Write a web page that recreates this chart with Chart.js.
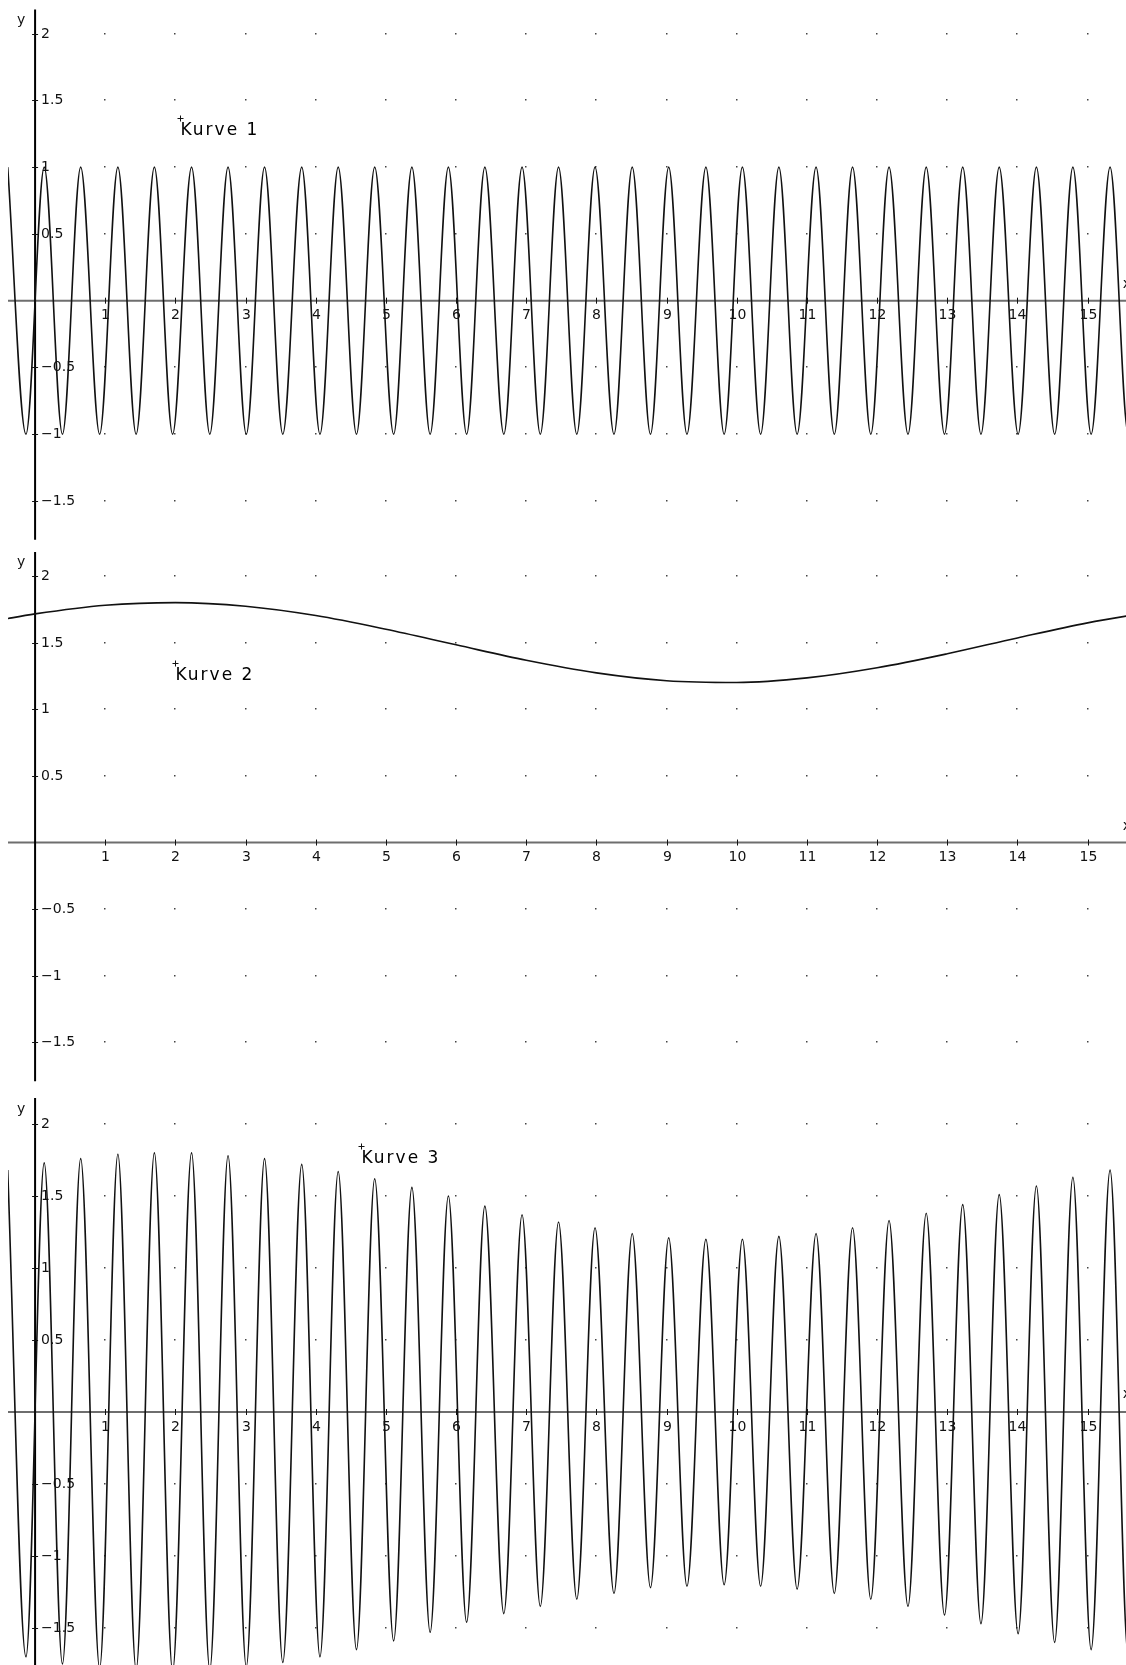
<!DOCTYPE html>
<html>
<head>
<meta charset="utf-8">
<script src="https://cdn.jsdelivr.net/npm/chart.js@4.4.0/dist/chart.umd.min.js"></script>
<style>
  body { margin: 0; background: #fff; }
  canvas { display: block; }
</style>
</head>
<body>
<canvas id="panel1" width="1126" height="541"></canvas>
<canvas id="panel2" width="1126" height="542"></canvas>
<canvas id="panel3" width="1126" height="582"></canvas>
<script>
// x positions of the peaks / troughs (Kurve 1 and Kurve 3 share them)
const extremaX = [-0.39, -0.13, 0.13, 0.39, 0.65, 0.92, 1.18, 1.44, 1.70, 1.96,
  2.23, 2.49, 2.75, 3.01, 3.27, 3.53, 3.80, 4.06, 4.32, 4.58,
  4.84, 5.11, 5.37, 5.63, 5.89, 6.15, 6.41, 6.68, 6.94, 7.20,
  7.46, 7.72, 7.98, 8.25, 8.51, 8.77, 9.03, 9.29, 9.56, 9.82,
  10.08, 10.34, 10.60, 10.86, 11.13, 11.39, 11.65, 11.91, 12.17, 12.44,
  12.70, 12.96, 13.22, 13.48, 13.74, 14.01, 14.27, 14.53, 14.79, 15.05,
  15.32, 15.58, 15.84];

const kurve1Y = [1, -1, 1, -1, 1, -1, 1, -1, 1, -1,
  1, -1, 1, -1, 1, -1, 1, -1, 1, -1,
  1, -1, 1, -1, 1, -1, 1, -1, 1, -1,
  1, -1, 1, -1, 1, -1, 1, -1, 1, -1,
  1, -1, 1, -1, 1, -1, 1, -1, 1, -1,
  1, -1, 1, -1, 1, -1, 1, -1, 1, -1,
  1, -1, 1];

const kurve3Y = [1.68, -1.70, 1.73, -1.75, 1.76, -1.78, 1.79, -1.79, 1.80, -1.80,
  1.80, -1.79, 1.78, -1.77, 1.76, -1.74, 1.72, -1.70, 1.67, -1.65,
  1.62, -1.59, 1.56, -1.53, 1.50, -1.46, 1.43, -1.40, 1.37, -1.35,
  1.32, -1.30, 1.28, -1.26, 1.24, -1.22, 1.21, -1.21, 1.20, -1.20,
  1.20, -1.21, 1.22, -1.23, 1.24, -1.26, 1.28, -1.30, 1.33, -1.35,
  1.38, -1.41, 1.44, -1.47, 1.51, -1.54, 1.57, -1.60, 1.63, -1.65,
  1.68, -1.70, 1.73];

const kurve2X = [-0.5, 0, 1, 2, 3, 4, 5, 6, 7, 8, 9, 10, 11, 12, 13, 14, 15, 16];
const kurve2Y = [1.67, 1.715, 1.78, 1.80, 1.773, 1.703, 1.60, 1.483, 1.367, 1.273,
  1.214, 1.201, 1.235, 1.311, 1.416, 1.535, 1.648, 1.738];

const xTicks = [1, 2, 3, 4, 5, 6, 7, 8, 9, 10, 11, 12, 13, 14, 15];
const yTicks = [2, 1.5, 1, 0.5, -0.5, -1, -1.5];

function toPoints(xs, ys) {
    let pts = [];
    for (var i = 0; i < xs.length; i++) {
        pts.push({x: xs[i], y: ys[i]});
    }
    return pts;
}

function fmt(v) {
    return v < 0 ? "\u2212" + String(-v) : String(v);
}

const axisCross = {
    id: "axisCross",
    beforeDatasetsDraw(chart, args, opts) {
        const ctx = chart.ctx;
        const sx = chart.scales.x;
        const sy = chart.scales.y;
        const area = chart.chartArea;
        const x0 = sx.getPixelForValue(0);
        const y0 = sy.getPixelForValue(0);
        ctx.save();

        // dotted grid
        ctx.fillStyle = "#444";
        xTicks.forEach(tx => {
            yTicks.forEach(ty => {
                ctx.fillRect(Math.round(sx.getPixelForValue(tx)) - 1, Math.round(sy.getPixelForValue(ty)) - 1, 1.5, 1.5);
            });
        });

        // x axis
        ctx.strokeStyle = "#6e6e6e";
        ctx.lineWidth = 2;
        ctx.beginPath();
        ctx.moveTo(area.left, y0);
        ctx.lineTo(area.right, y0);
        ctx.stroke();

        // y axis
        ctx.strokeStyle = "#000";
        ctx.lineWidth = 2;
        ctx.beginPath();
        ctx.moveTo(x0, sy.getPixelForValue(2.18));
        ctx.lineTo(x0, sy.getPixelForValue(-1.79));
        ctx.stroke();

        ctx.font = '14px "DejaVu Sans"';
        ctx.fillStyle = "#111";
        ctx.strokeStyle = "#111";
        ctx.lineWidth = 1;

        // x ticks + labels
        ctx.textAlign = "center";
        ctx.textBaseline = "middle";
        xTicks.forEach(tx => {
            const px = Math.round(sx.getPixelForValue(tx)) + 0.5;
            ctx.beginPath();
            ctx.moveTo(px, y0 - 3);
            ctx.lineTo(px, y0 + 3);
            ctx.stroke();
            ctx.fillText(String(tx), px, y0 + 15);
        });

        // y ticks + labels
        ctx.textAlign = "left";
        yTicks.forEach(ty => {
            const py = Math.round(sy.getPixelForValue(ty)) + 0.5;
            ctx.beginPath();
            ctx.moveTo(x0 - 3, py);
            ctx.lineTo(x0 + 3, py);
            ctx.stroke();
            ctx.fillText(fmt(ty), x0 + 6, py);
        });

        // axis names
        ctx.textAlign = "center";
        ctx.fillText("y", sx.getPixelForValue(-0.2), sy.getPixelForValue(2.1));
        ctx.textAlign = "left";
        ctx.fillText("x", sx.getPixelForValue(15.5), sy.getPixelForValue(0.12));

        // curve name with its little cross
        const ax = Math.round(sx.getPixelForValue(opts.labelX)) + 0.5;
        const ay = Math.round(sy.getPixelForValue(opts.labelY)) + 0.5;
        ctx.beginPath();
        ctx.moveTo(ax - 3, ay);
        ctx.lineTo(ax + 3, ay);
        ctx.moveTo(ax, ay - 3);
        ctx.lineTo(ax, ay + 3);
        ctx.stroke();
        ctx.font = '17px "DejaVu Sans"';
        ctx.letterSpacing = "2px";
        ctx.fillStyle = "#000";
        ctx.textBaseline = "alphabetic";
        ctx.fillText(opts.text, ax, ay + 16);

        ctx.restore();
    }
};

function makePanel(id, points, yMin, yMax, text, labelX, labelY) {
    return new Chart(document.getElementById(id), {
        type: "line",
        data: {
            datasets: [{
                data: points,
                borderColor: "#111",
                borderWidth: 1.6,
                pointRadius: 0,
                fill: false,
                cubicInterpolationMode: "monotone"
            }]
        },
        options: {
            responsive: false,
            animation: false,
            layout: { padding: { left: 8, right: 0, top: 0, bottom: 0 } },
            scales: {
                x: { type: "linear", min: -0.386, max: 15.547, display: false },
                y: { type: "linear", min: yMin, max: yMax, display: false }
            },
            plugins: {
                legend: { display: false },
                tooltip: { enabled: false },
                axisCross: { text: text, labelX: labelX, labelY: labelY }
            }
        },
        plugins: [axisCross]
    });
}

makePanel("panel1", toPoints(extremaX, kurve1Y), -1.80, 2.252, "Kurve 1", 2.06, 1.37);
makePanel("panel2", toPoints(kurve2X, kurve2Y), -1.804, 2.262, "Kurve 2", 2.0, 1.35);
makePanel("panel3", toPoints(extremaX, kurve3Y), -1.757, 2.285, "Kurve 3", 4.64, 1.85);
</script>
</body>
</html>
